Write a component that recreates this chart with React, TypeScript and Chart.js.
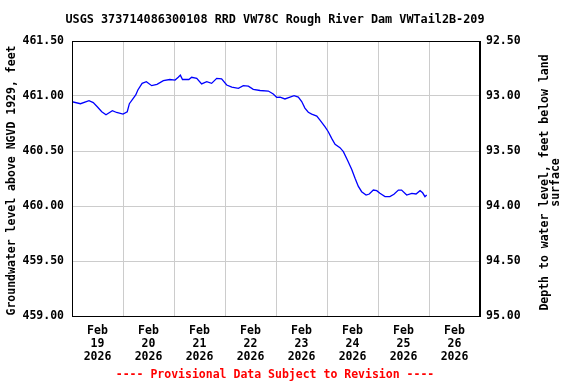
import React, { useEffect, useRef } from "react";
import { Chart, registerables } from "chart.js";

Chart.register(...registerables);

const TITLE = "USGS 373714086300108 RRD VW78C Rough River Dam VWTail2B-209";
const LEFT_TITLE = "Groundwater level above NGVD 1929, feet";
const RIGHT_TITLE = ["Depth to water level, feet below land", "surface"];
const FOOTER = "---- Provisional Data Subject to Revision ----";

const dayLabels = ["19", "20", "21", "22", "23", "24", "25", "26"];
const monthLabel = "Feb";
const yearLabel = "2026";

// hours since Feb 19 00:00
const hours = [
  0, 4, 8, 10, 12, 14, 16, 19, 21, 24, 26, 27, 30, 31, 33, 35, 37.5, 40, 43, 46,
  48.5, 50, 51, 52, 55, 56.3, 58.7, 61, 63.4, 65.7, 68.1, 70.4, 72.8, 75.2, 78.3,
  80.6, 83, 85.3, 88.5, 92.4, 94.7, 96.3, 97.9, 100.2, 102.6, 104.5, 106.5, 108.1,
  109.6, 111.2, 112.8, 115.2, 116.7, 119.1, 120.6, 122.2, 123.8, 126.1, 127.7,
  129.6, 131.6, 133.2, 134.7, 136.3, 138.4, 139.9, 141.8, 143.4, 144.9, 147.3,
  149.6, 151.5, 153.6, 155.1, 157.5, 159.9, 161.9, 163.8, 165, 166.1, 166.9,
];
// water level, feet above NGVD 1929
const levels = [
  460.948, 460.93, 460.957, 460.94, 460.9, 460.857, 460.83, 460.866, 460.85, 460.836,
  460.857, 460.93, 461.01, 461.055, 461.115, 461.13, 461.094, 461.106, 461.14, 461.15,
  461.145, 461.17, 461.19, 461.15, 461.15, 461.17, 461.16, 461.11, 461.13, 461.115,
  461.16, 461.155, 461.1, 461.08, 461.07, 461.094, 461.09, 461.06, 461.05, 461.045,
  461.018, 460.988, 460.99, 460.973, 460.99, 461.003, 460.99, 460.95, 460.89, 460.852,
  460.836, 460.818, 460.78, 460.72, 460.675, 460.615, 460.56, 460.53, 460.494, 460.418,
  460.334, 460.252, 460.18, 460.13, 460.1, 460.109, 460.145, 460.139, 460.115, 460.085,
  460.085, 460.106, 460.145, 460.145, 460.1, 460.115, 460.109, 460.139, 460.12, 460.085,
  460.1,
];

const FONT = "'DejaVu Sans Mono', monospace";

const textPlugin = {
  id: "texts",
  afterDraw(chart: any) {
    const ctx = chart.ctx;
    const a = chart.chartArea;
    ctx.save();
    // frame
    ctx.strokeStyle = "#000000";
    ctx.lineWidth = 1;
    ctx.strokeRect(Math.round(a.left) + 0.5, Math.round(a.top) + 0.5, Math.round(a.right - a.left) - 1, Math.round(a.bottom - a.top));
    ctx.fillStyle = "#000000";
    ctx.font = `bold 11.8px ${FONT}`;
    ctx.textAlign = "center";
    ctx.textBaseline = "middle";
    ctx.fillText(TITLE, 275, 20);
    ctx.font = `bold 11.5px ${FONT}`;
    const cy = (a.top + a.bottom) / 2;
    ctx.save();
    ctx.translate(12, cy + 2);
    ctx.rotate(-Math.PI / 2);
    ctx.fillText(LEFT_TITLE, 0, 0);
    ctx.restore();
    ctx.save();
    ctx.translate(545, cy + 4);
    ctx.rotate(-Math.PI / 2);
    ctx.fillText(RIGHT_TITLE[0], 0, 0);
    ctx.fillText(RIGHT_TITLE[1], 0, 11);
    ctx.restore();
    ctx.fillStyle = "#ff0000";
    ctx.fillText(FOOTER, 275, 375);
    ctx.restore();
  },
};

export default function App() {
  const ref = useRef<HTMLCanvasElement>(null);
  useEffect(() => {
    const tickFont = { family: FONT, size: 11.5, weight: "bold" as const };
    const chart = new Chart(ref.current!, {
      type: "line",
      data: {
        datasets: [
          {
            data: hours.map((h, i) => ({ x: h, y: levels[i] })),
            borderColor: "#0000ff",
            borderWidth: 1.3,
            pointRadius: 0,
            fill: false,
            tension: 0,
            yAxisID: "y",
          },
        ],
      },
      plugins: [textPlugin],
      options: {
        animation: false,
        responsive: false,
        maintainAspectRatio: false,
        layout: { padding: { top: 41, left: 0, right: 0, bottom: 0 } },
        plugins: { legend: { display: false }, tooltip: { enabled: false } },
        scales: {
          x: {
            type: "linear",
            min: 0,
            max: 192,
            afterFit: (s: any) => {
              s.height = 68;
            },
            border: { display: true, color: "#000000" },
            grid: {
              drawTicks: false,
              color: (c: any) =>
                c.tick && c.tick.value % 24 === 0 ? "#cccccc" : "rgba(0,0,0,0)",
            },
            ticks: {
              stepSize: 12,
              autoSkip: false,
              maxRotation: 0,
              padding: 9,
              color: "#000000",
              font: { ...tickFont, lineHeight: 1.13 },
              callback: (v: any) => {
                const n = Number(v);
                if (n % 24 === 12) {
                  const d = dayLabels[(n - 12) / 24];
                  return d ? [monthLabel, d, yearLabel] : "";
                }
                return "";
              },
            },
          },
          y: {
            type: "linear",
            position: "left",
            min: 459,
            max: 461.5,
            afterFit: (s: any) => {
              s.width = 72;
            },
            border: { display: true, color: "#000000" },
            grid: { drawTicks: false, color: "#cccccc" },
            ticks: {
              stepSize: 0.5,
              padding: 8,
              color: "#000000",
              font: tickFont,
              callback: (v: any) => Number(v).toFixed(2),
            },
          },
          y2: {
            type: "linear",
            position: "right",
            min: 92.5,
            max: 95,
            reverse: true,
            afterFit: (s: any) => {
              s.width = 96;
            },
            border: { display: true, color: "#000000" },
            grid: { drawTicks: false, drawOnChartArea: false },
            ticks: {
              stepSize: 0.5,
              padding: 6,
              color: "#000000",
              font: tickFont,
              callback: (v: any) => Number(v).toFixed(2),
            },
          },
        },
      },
    } as any);
    return () => chart.destroy();
  }, []);
  return (
    <div style={{ position: "fixed", left: 0, top: 0, width: 576, height: 384, background: "#ffffff" }}>
      <canvas ref={ref} width={576} height={384} style={{ width: 576, height: 384 }} />
    </div>
  );
}
